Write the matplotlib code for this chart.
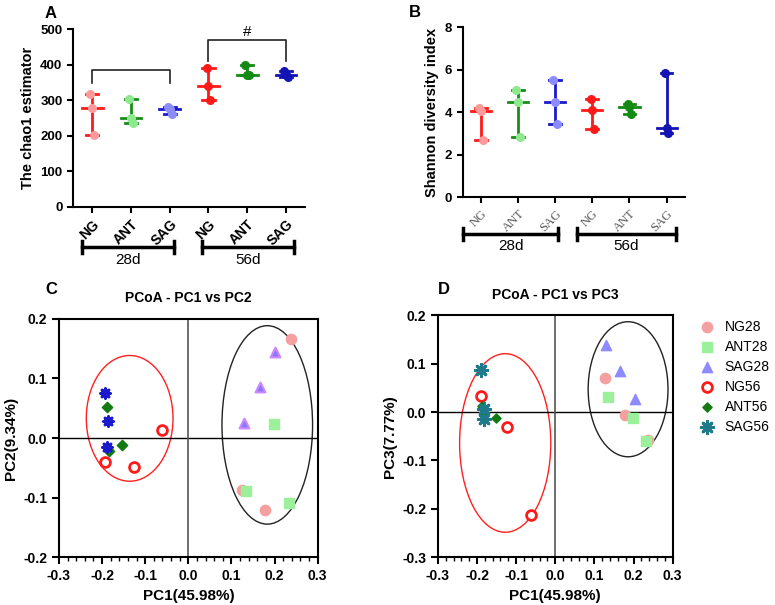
import matplotlib
matplotlib.use("Agg")
from matplotlib import pyplot as plt
from matplotlib.patches import Ellipse
from matplotlib.ticker import MultipleLocator
import numpy as np

plt.rcParams['font.family'] = ['Liberation Sans', 'DejaVu Sans']

groups = ['NG', 'ANT', 'SAG', 'NG', 'ANT', 'SAG']
periods = ['28d', '56d']

# panel A: chao1 per group (3 samples each)
chao1 = [[318, 278, 201], [303, 250, 236], [281, 276, 260],
         [390, 339, 301], [400, 372, 370], [381, 372, 364]]
# panel B: shannon per group
shannon = [[4.22, 4.05, 2.67], [5.05, 4.49, 2.82], [5.52, 4.48, 3.45],
           [4.62, 4.11, 3.20], [4.38, 4.25, 3.92], [5.85, 3.28, 3.02]]

line_cols = ['#ff1a1a', '#1a8c1a', '#1a1acc', '#ff1a1a', '#138a13', '#1414b4']
pt_cols = ['#ff9a9a', '#8ee88e', '#8c8cff', '#ff1a1a', '#138a13', '#1414b4']

# PCoA coordinates
labels = ['NG28', 'ANT28', 'SAG28', 'NG56', 'ANT56', 'SAG56']
pc1 = {'NG28': [0.238, 0.124, 0.178], 'ANT28': [0.199, 0.134, 0.234],
       'SAG28': [0.202, 0.166, 0.128], 'NG56': [-0.062, -0.193, -0.125],
       'ANT56': [-0.189, -0.154, -0.183], 'SAG56': [-0.194, -0.186, -0.188]}
pc2 = {'NG28': [0.167, -0.088, -0.120], 'ANT28': [0.024, -0.089, -0.109],
       'SAG28': [0.145, 0.085, 0.025], 'NG56': [0.014, -0.040, -0.048],
       'ANT56': [0.052, -0.012, -0.021], 'SAG56': [0.075, 0.028, -0.015]}
pc1_d = {'NG28': [0.126, 0.178, 0.237], 'ANT28': [0.135, 0.199, 0.232],
         'SAG28': [0.130, 0.166, 0.204], 'NG56': [-0.191, -0.123, -0.061],
         'ANT56': [-0.187, -0.181, -0.152], 'SAG56': [-0.191, -0.183, -0.183]}
pc3 = {'NG28': [0.071, -0.006, -0.057], 'ANT28': [0.032, -0.013, -0.060],
       'SAG28': [0.139, 0.084, 0.027], 'NG56': [0.033, -0.032, -0.212],
       'ANT56': [0.013, 0.001, -0.012], 'SAG56': [0.086, 0.007, -0.014]}

fig = plt.figure(figsize=(7.75, 6.05), dpi=100)


def range_plot(ax, data, ylim, yticks, ylabel, serif_ticks):
    x = np.arange(6) + 0.5
    for i, vals in enumerate(data):
        lo, med, hi = min(vals), np.median(vals), max(vals)
        c = line_cols[i]
        ax.plot([x[i], x[i]], [lo, hi], color=c, lw=2, zorder=2)
        ax.plot([x[i] - 0.27, x[i] + 0.27], [med, med], color=c, lw=2, zorder=2)
        for v in (lo, hi):
            ax.plot([x[i] - 0.16, x[i] + 0.16], [v, v], color=c, lw=2, zorder=2)
        ax.scatter([x[i] - 0.05, x[i], x[i] + 0.05], vals, s=30, color=pt_cols[i], zorder=3)
    ax.set_xlim(0, 6)
    ax.set_ylim(*ylim)
    ax.set_yticks(yticks)
    ax.set_xticks(x)
    if serif_ticks:
        ax.set_xticklabels(groups, rotation=45, ha='right', rotation_mode='anchor',
                           family='Liberation Serif', fontsize=9, color='#555555')
    else:
        ax.set_xticklabels(groups, rotation=45, ha='right', rotation_mode='anchor',
                           fontweight='bold', fontsize=10)
    for t in ax.get_yticklabels():
        t.set_fontweight('bold')
        t.set_fontsize(9.5)
    ax.set_ylabel(ylabel, fontweight='bold', fontsize=10.5)
    ax.spines['top'].set_visible(False)
    ax.spines['right'].set_visible(False)
    ax.spines['left'].set_linewidth(1.5)
    ax.spines['bottom'].set_linewidth(1.5)
    ax.tick_params(width=1.5, length=4)


def group_bars(ax, spans, ybar, ytext):
    tr = ax.get_xaxis_transform()
    for (a, b), lab in zip(spans, periods):
        ax.plot([a, b], [ybar, ybar], color='black', lw=2.5, transform=tr, clip_on=False)
        for e in (a, b):
            ax.plot([e, e], [ybar - 0.035, ybar + 0.035], color='black', lw=2.5,
                    transform=tr, clip_on=False)
        ax.text((a + b) / 2, ytext, lab, transform=tr, ha='center', va='center', fontsize=11)


# panel A
axA = fig.add_axes([0.094, 0.658, 0.300, 0.294])
range_plot(axA, chao1, (0, 500), [0, 100, 200, 300, 400, 500], 'The chao1 estimator', False)
group_bars(axA, [(0.23, 2.62), (3.32, 5.70)], -0.225, -0.30)
axA.plot([0.5, 0.5, 2.5, 2.5], [348, 386, 386, 348], color='#222222', lw=1.2)
axA.plot([3.5, 3.5, 5.5, 5.5], [409, 468, 468, 409], color='#222222', lw=1.2)
axA.text(4.5, 472, '#', ha='center', va='bottom', fontsize=11)
fig.text(0.058, 0.977, 'A', fontweight='bold', fontsize=12, va='center')

# panel B
axB = fig.add_axes([0.597, 0.674, 0.287, 0.281])
range_plot(axB, shannon, (0, 8), [0, 2, 4, 6, 8], 'Shannon diversity index', True)
group_bars(axB, [(0.02, 2.57), (3.08, 5.76)], -0.218, -0.285)
fig.text(0.527, 0.979, 'B', fontweight='bold', fontsize=12, va='center')

# PCoA panels
style_c = {'NG28': dict(marker='o', color='#f4a0a0', s=55),
           'ANT28': dict(marker='s', color='#9cf09c', s=50),
           'SAG28': dict(marker='^', color='#8877ff', edgecolors='#cc88ff', linewidths=1.5, s=50),
           'NG56': dict(marker='o', facecolors='white', edgecolors='#ff1a1a', linewidths=2, s=50),
           'ANT56': dict(marker='D', color='#137a13', s=28),
           'SAG56': dict(marker=(8, 2, 0), color='#1a1acc', linewidths=2, s=50)}
style_d = dict(style_c)
style_d['SAG28'] = dict(marker='^', color='#8c8cff', s=55)
style_d['ANT56'] = dict(marker='D', color='#137a13', s=22)
style_d['SAG56'] = dict(marker=(8, 2, 0), color='#1f7a8c', linewidths=2, s=80)


def pcoa(ax, xs, ys, styles, ylim, yticks, ylabel, title, ells):
    for lab in labels:
        ax.scatter(xs[lab], ys[lab], label=lab, zorder=3, **styles[lab])
    ax.axhline(0, color='black', lw=1)
    ax.axvline(0, color='#555555', lw=1.2)
    for (cx, cy, w, h, c) in ells:
        ax.add_patch(Ellipse((cx, cy), w, h, fill=False, edgecolor=c, lw=1))
    ax.set_xlim(-0.3, 0.3)
    ax.set_ylim(*ylim)
    ax.set_xticks([-0.3, -0.2, -0.1, 0.0, 0.1, 0.2, 0.3])
    ax.set_xticklabels(['-0.3', '-0.2', '-0.1', '0.0', '0.1', '0.2', '0.3'])
    ax.set_yticks(yticks)
    ax.set_yticklabels(['%.1f' % v for v in yticks])
    ax.xaxis.set_minor_locator(MultipleLocator(0.02))
    ax.tick_params(which='major', width=1.5, length=5, labelsize=10)
    ax.tick_params(which='minor', axis='x', width=1, length=3)
    for t in ax.get_xticklabels() + ax.get_yticklabels():
        t.set_fontweight('bold')
    for s in ax.spines.values():
        s.set_linewidth(1.5)
    ax.set_xlabel('PC1(45.98%)', fontweight='bold', fontsize=11)
    ax.set_ylabel(ylabel, fontweight='bold', fontsize=11)
    ax.set_title(title, fontweight='bold', fontsize=10, pad=12)


axC = fig.add_axes([0.076, 0.079, 0.334, 0.394])
pcoa(axC, pc1, pc2, style_c, (-0.2, 0.2), [-0.2, -0.1, 0.0, 0.1, 0.2], 'PC2(9.34%)',
     'PCoA - PC1 vs PC2',
     [(-0.136, 0.033, 0.201, 0.211, '#ff2020'), (0.183, 0.022, 0.21, 0.333, '#222222')])
fig.text(0.058, 0.522, 'C', fontweight='bold', fontsize=12, va='center')

axD = fig.add_axes([0.565, 0.079, 0.303, 0.400])
pcoa(axD, pc1_d, pc3, style_d, (-0.3, 0.2), [-0.3, -0.2, -0.1, 0.0, 0.1, 0.2], 'PC3(7.77%)',
     'PCoA - PC1 vs PC3',
     [(-0.128, -0.064, 0.233, 0.369, '#ff2020'), (0.186, 0.047, 0.204, 0.279, '#222222')])
fig.text(0.565, 0.522, 'D', fontweight='bold', fontsize=12, va='center')

fig.legend(*axD.get_legend_handles_labels(), loc='upper left',
           bbox_to_anchor=(0.903, 0.471), frameon=False, fontsize=10,
           labelspacing=0.43, handletextpad=0.8, handlelength=1.0,
           borderpad=0, borderaxespad=0)

fig.savefig('out.png', dpi=100)
